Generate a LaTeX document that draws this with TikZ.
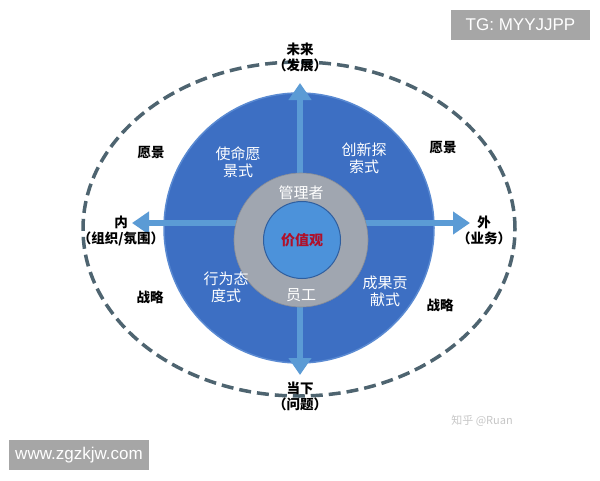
\documentclass[tikz,border=0pt]{standalone}
\usepackage{fontspec}
\setmainfont{Liberation Sans}
\newfontfamily\cjk{Noto Sans CJK SC}
\usetikzlibrary{arrows.meta,shapes.geometric}
\definecolor{bigblue}{HTML}{3D6FC3}
\definecolor{bigedge}{HTML}{5A8AD2}
\definecolor{arrowblue}{HTML}{5B9BD5}
\definecolor{ringgray}{HTML}{A0A6B0}
\definecolor{coreblue}{HTML}{4C92DA}
\definecolor{coreedge}{HTML}{2F5E9E}
\definecolor{dashcol}{HTML}{4E6470}
\definecolor{wmgray}{HTML}{A6A6A6}
\definecolor{valred}{HTML}{B0102A}
\tikzset{
  outer/.style={font=\cjk\bfseries\fontsize{13.5}{16}\selectfont, align=center, text=black},
  inner/.style={font=\cjk\fontsize{15}{17}\selectfont, align=center, text=white},
  axis/.style={draw=arrowblue, line width=6pt,
     {Triangle[width=22pt,length=17pt]}-{Triangle[width=22pt,length=17pt]}},
  wm/.style={fill=wmgray, text=white, font=\fontsize{17}{20}\selectfont, inner sep=0pt, anchor=center}
}
\begin{document}
\begin{tikzpicture}[x=1pt,y=-1pt]
\useasboundingbox[fill=white] (0,0) rectangle (600,480);
% dashed outer ellipse
\node[draw=dashcol, line width=3.5pt, dash pattern=on 12pt off 6pt, ellipse, minimum width=432pt, minimum height=334pt, inner sep=0pt] (env) at (299,229) {};
% big blue circle
\node[circle, fill=bigblue, draw=bigedge, line width=1.5pt, minimum size=270pt, inner sep=0pt] (big) at (299,228) {};
% axes
\coordinate (top) at (300,83);
\coordinate (bot) at (300,375);
\coordinate (lft) at (132,223);
\coordinate (rgt) at (470,223);
\draw[axis] (bot) -- (top);
\draw[axis] (lft) -- (rgt);
% gray ring and core
\node[circle, fill=ringgray, draw=ringgray!85!black, line width=0.6pt, minimum size=134pt, inner sep=0pt] (ring) at (301,240) {};
\node[circle, fill=coreblue, draw=coreedge, line width=1pt, minimum size=77pt, inner sep=0pt] (core) at (302,240) {};
\node[font=\cjk\bfseries\fontsize{14}{16}\selectfont, text=valred] (val) at (302,240) {价值观};
\node[inner] (mgr) at (301,193) {管理者};
\node[inner] (emp) at (301,295) {员工};
% quadrant labels
\node[inner] (q1) at (238,162) {使命愿\\景式};
\node[inner] (q2) at (364,158) {创新探\\索式};
\node[inner] (q3) at (226,287) {行为态\\度式};
\node[inner] (q4) at (385,291) {成果贡\\献式};
% outer labels
\node[outer] (up) at (300,57) {未来\\（发展）};
\node[outer] (down) at (300,396) {当下\\（问题）};
\node[outer] (in) at (121,231) {内\\（组织/氛围）};
\node[outer] (out) at (484,230) {外\\（业务）};
\node[outer] (v1) at (151,153) {愿景};
\node[outer] (v2) at (443,148) {愿景};
\node[outer] (s1) at (150,297) {战略};
\node[outer] (s2) at (440,305) {战略};
% watermarks
\node[wm, minimum width=139pt, minimum height=30pt] (tg) at (520.5,25) {TG: MYYJJPP};
\node[wm, minimum width=140pt, minimum height=30pt] (www) at (79,455) {www.zgzkjw.com};
\node[font=\cjk\fontsize{11}{13}\selectfont, text=black!22] (zh) at (482,421) {知乎 @Ruan};
\end{tikzpicture}
\end{document}
